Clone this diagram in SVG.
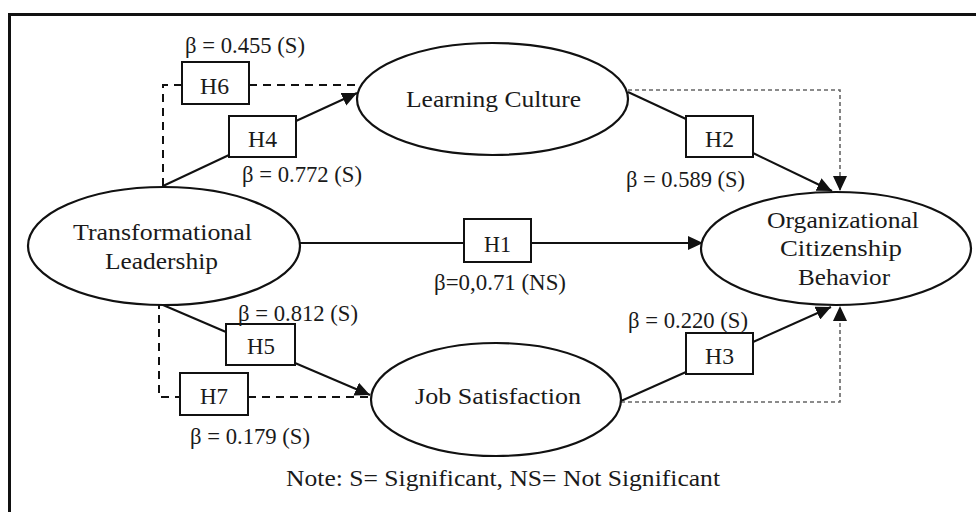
<svg xmlns="http://www.w3.org/2000/svg" width="976" height="512" viewBox="0 0 976 512">
<style>
text{font-family:"Liberation Serif","Times New Roman",serif;font-size:23px;fill:#1a1a1a;}
.node{fill:#fff;stroke:#111;stroke-width:2.2;}
.box{fill:#fff;stroke:#111;stroke-width:2;}
.solid{fill:none;stroke:#111;stroke-width:2;}
.dash{fill:none;stroke:#111;stroke-width:2;stroke-dasharray:8,6;}
.gdash{fill:none;stroke:#666;stroke-width:1.6;stroke-dasharray:4,3;}
</style>
<defs>
<marker id="ah" markerUnits="userSpaceOnUse" markerWidth="16" markerHeight="14" viewBox="0 0 16 14" refX="15" refY="7" orient="auto">
<path d="M0,0 L15,7 L0,14 z" fill="#111"/>
</marker>
</defs>
<rect width="976" height="512" fill="#fff"/>
<path d="M9.5,512 V14.5 H976" fill="none" stroke="#111" stroke-width="3"/>

<g id="connectors">
<!-- H4 -->
<path class="solid" d="M163,186 L229,155"/>
<path class="solid" d="M296,121 L357,93" marker-end="url(#ah)"/>
<!-- H6 -->
<path class="dash" d="M163,186 V85 H182"/>
<path class="dash" d="M249,85 H361"/>
<!-- H5 -->
<path class="solid" d="M163,305 L226,332"/>
<path class="solid" d="M295,363 L370,395" marker-end="url(#ah)"/>
<!-- H7 -->
<path class="dash" d="M159,301 V397 H180"/>
<path class="dash" d="M248,397 H370"/>
<!-- H1 -->
<path class="solid" d="M300,243 H464"/>
<path class="solid" d="M531,243 H703" marker-end="url(#ah)"/>
<!-- H2 -->
<path class="solid" d="M628,92 L686,119"/>
<path class="solid" d="M753,153 L832,191" marker-end="url(#ah)"/>
<!-- H3 -->
<path class="solid" d="M621,401 L686,372"/>
<path class="solid" d="M753,342 L831,307" marker-end="url(#ah)"/>
<!-- gray dashed mediation -->
<path class="gdash" d="M628,90 H840 V191" marker-end="url(#ah)"/>
<path class="gdash" d="M621,402 H840 V306" marker-end="url(#ah)"/>
</g>

<g id="node-tl">
<ellipse class="node" cx="164" cy="246" rx="136" ry="59"/>
<text x="73" y="240" textLength="179" lengthAdjust="spacingAndGlyphs">Transformational</text>
<text x="105" y="269" textLength="113" lengthAdjust="spacingAndGlyphs">Leadership</text>
</g>
<g id="node-lc">
<ellipse class="node" cx="492.5" cy="99" rx="135.5" ry="56"/>
<text x="406" y="107" textLength="175" lengthAdjust="spacingAndGlyphs">Learning Culture</text>
</g>
<g id="node-ocb">
<ellipse class="node" cx="836" cy="248.5" rx="135" ry="56.5"/>
<text x="767" y="228" textLength="152" lengthAdjust="spacingAndGlyphs">Organizational</text>
<text x="780" y="256" textLength="122" lengthAdjust="spacingAndGlyphs">Citizenship</text>
<text x="798" y="285" textLength="92" lengthAdjust="spacingAndGlyphs">Behavior</text>
</g>
<g id="node-js">
<ellipse class="node" cx="496" cy="399.5" rx="125" ry="56.5"/>
<text x="415" y="404" textLength="166" lengthAdjust="spacingAndGlyphs">Job Satisfaction</text>
</g>

<g id="h6">
<rect class="box" x="182" y="62" width="67" height="42"/>
<text x="200" y="94" textLength="29" lengthAdjust="spacingAndGlyphs">H6</text>
<text x="185" y="53" textLength="120" lengthAdjust="spacingAndGlyphs">β = 0.455 (S)</text>
</g>
<g id="h4">
<rect class="box" x="229" y="116" width="67" height="41"/>
<text x="248" y="147" textLength="29" lengthAdjust="spacingAndGlyphs">H4</text>
<text x="242" y="182" textLength="120" lengthAdjust="spacingAndGlyphs">β = 0.772 (S)</text>
</g>
<g id="h2">
<rect class="box" x="686" y="116" width="67" height="41"/>
<text x="705" y="147" textLength="29" lengthAdjust="spacingAndGlyphs">H2</text>
<text x="626" y="187" textLength="119" lengthAdjust="spacingAndGlyphs">β = 0.589 (S)</text>
</g>
<g id="h1">
<rect class="box" x="464" y="219" width="67" height="43"/>
<text x="484" y="252" textLength="27" lengthAdjust="spacingAndGlyphs">H1</text>
<text x="434" y="290" textLength="132" lengthAdjust="spacingAndGlyphs">β=0,0.71 (NS)</text>
</g>
<g id="h5">
<rect class="box" x="226" y="324" width="69" height="41"/>
<text x="247" y="354" textLength="28" lengthAdjust="spacingAndGlyphs">H5</text>
<text x="238" y="321" textLength="120" lengthAdjust="spacingAndGlyphs">β = 0.812 (S)</text>
</g>
<g id="h7">
<rect class="box" x="180" y="373" width="68" height="42"/>
<text x="200" y="404" textLength="28" lengthAdjust="spacingAndGlyphs">H7</text>
<text x="190" y="444" textLength="120" lengthAdjust="spacingAndGlyphs">β = 0.179 (S)</text>
</g>
<g id="h3">
<rect class="box" x="686" y="333" width="67" height="41"/>
<text x="705" y="364" textLength="29" lengthAdjust="spacingAndGlyphs">H3</text>
<text x="628" y="328" textLength="120" lengthAdjust="spacingAndGlyphs">β = 0.220 (S)</text>
</g>

<g id="note">
<text x="286" y="486" textLength="434" lengthAdjust="spacingAndGlyphs">Note: S= Significant, NS= Not Significant</text>
</g>
</svg>
